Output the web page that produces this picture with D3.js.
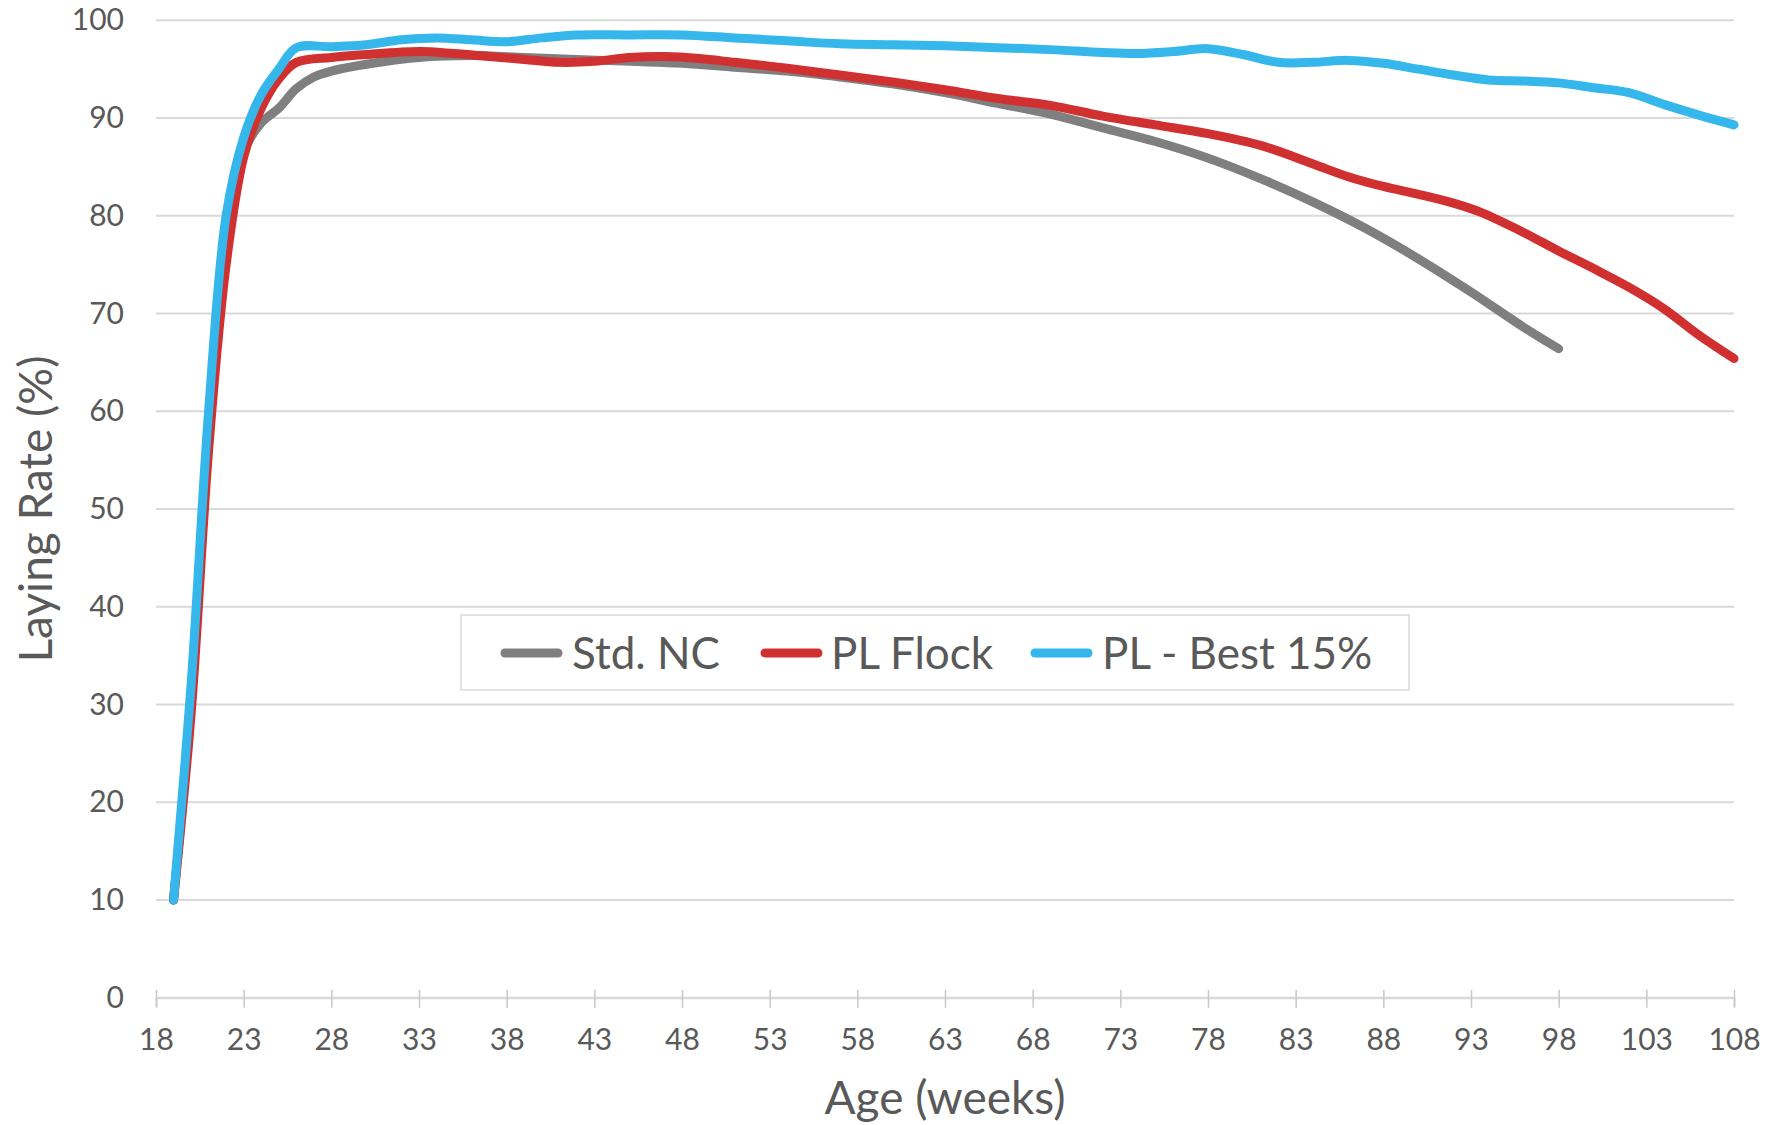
<!DOCTYPE html>
<html>
<head>
<meta charset="utf-8">
<script src="https://cdn.jsdelivr.net/npm/d3@7"></script>
<style>
  html, body { margin: 0; padding: 0; background: #ffffff; }
  svg { display: block; font-family: Lato, "Open Sans", sans-serif; }
</style>
</head>
<body>
<svg id="chart" width="1770" height="1125"></svg>
<script>
// ---- data ----
const stdWeeks   = [19,20,21,22,23,24,25,26,27,28,30,33,36,39,42,45,48,51,54,57,60,63,66,69,72,75,78,81,84,87,90,93,96,98];
const stdValues  = [10,30,57,76,86.5,89.5,91,93,94.2,94.8,95.5,96.2,96.4,96.2,96.0,95.8,95.6,95.2,94.8,94.2,93.5,92.6,91.5,90.4,89.0,87.6,85.9,83.8,81.4,78.7,75.6,72.2,68.6,66.4];

const flockWeeks  = [19,20,21,22,23,24,25,26,28,30,33,35,37,39,41,43,45,47,49,51,54,57,60,63,66,69,72,75,78,81,84,86,88,90,92,93.5,96,98,100,102,104,106,108];
const flockValues = [10,29,56,75,86,91,94,95.7,96.2,96.5,96.8,96.6,96.3,96.0,95.7,95.8,96.2,96.3,96.1,95.7,95.1,94.4,93.7,92.9,92.0,91.3,90.2,89.3,88.4,87.2,85.3,84.0,83.0,82.2,81.3,80.4,78.3,76.4,74.6,72.7,70.5,67.8,65.4];

const bestWeeks  = [19,20,21,22,23,24,25,26,28,30,32,34,36,38,40,42,45,48,51,54,57,60,63,66,69,72,74,76,78,80,82,84,86,88,90,92,94,96,98,100,102,104,106,108];
const bestValues = [10,32,60,80,88,92.4,95,97.2,97.3,97.5,98.0,98.2,98.0,97.8,98.2,98.5,98.5,98.5,98.2,97.9,97.6,97.5,97.4,97.2,97.0,96.7,96.6,96.8,97.1,96.5,95.7,95.7,95.9,95.6,95.0,94.4,93.9,93.8,93.6,93.1,92.6,91.4,90.3,89.3];

const seriesNames  = ["Std. NC", "PL Flock", "PL - Best 15%"];
const seriesColors = ["#7f7f7f", "#d0302f", "#35b7eb"];

const xTicks = [18,23,28,33,38,43,48,53,58,63,68,73,78,83,88,93,98,103,108];
const yTicks = [0,10,20,30,40,50,60,70,80,90,100];

const xTitle = "Age (weeks)";
const yTitle = "Laying Rate (%)";

// ---- layout ----
const plot = { left: 156, right: 1734, top: 20.3, bottom: 997.8 };
const svg = d3.select("#chart");

const x = d3.scaleLinear().domain([18, 108]).range([plot.left, plot.right]);
const y = d3.scaleLinear().domain([0, 100]).range([plot.bottom, plot.top]);

const textColor = "#595959";
const gridColor = "#d9d9d9";

// gridlines
svg.append("g")
  .selectAll("line")
  .data(yTicks)
  .join("line")
  .attr("x1", plot.left).attr("x2", plot.right)
  .attr("y1", d => y(d)).attr("y2", d => y(d))
  .attr("stroke", gridColor).attr("stroke-width", 2);

// y labels
const yAxis = d3.axisLeft(y).tickValues(yTicks).tickSize(0).tickPadding(32);
const gy = svg.append("g").attr("transform", `translate(${plot.left},0)`).call(yAxis);
gy.select(".domain").remove();
gy.selectAll("text").attr("fill", textColor).attr("font-size", 30).attr("font-family", "Lato, sans-serif");

// x axis
const xAxis = d3.axisBottom(x).tickValues(xTicks).tickSize(9).tickPadding(22);
const gx = svg.append("g").attr("transform", `translate(0,${plot.bottom})`).call(xAxis);
gx.select(".domain").attr("stroke", gridColor).attr("stroke-width", 2);
gx.selectAll(".tick line").attr("stroke", "#c8c8c8").attr("stroke-width", 1.5).attr("y1", -8).attr("y2", 10);
gx.selectAll("text").attr("fill", textColor).attr("font-size", 30).attr("font-family", "Lato, sans-serif");

// axis titles
svg.append("text")
  .attr("x", (plot.left + plot.right) / 2).attr("y", 1114)
  .attr("text-anchor", "middle")
  .attr("fill", textColor).attr("font-size", 46)
  .text(xTitle);

svg.append("text")
  .attr("transform", `translate(52,${(plot.top + plot.bottom) / 2}) rotate(-90)`)
  .attr("text-anchor", "middle")
  .attr("fill", textColor).attr("font-size", 46)
  .text(yTitle);

// lines
const line = d3.line()
  .x(d => x(d[0])).y(d => y(d[1]))
  .curve(d3.curveCatmullRom.alpha(0.5));

const series = [
  d3.zip(stdWeeks, stdValues),
  d3.zip(flockWeeks, flockValues),
  d3.zip(bestWeeks, bestValues)
];

svg.append("g")
  .selectAll("path")
  .data(series)
  .join("path")
  .attr("d", line)
  .attr("fill", "none")
  .attr("stroke", (d, i) => seriesColors[i])
  .attr("stroke-width", 9)
  .attr("stroke-linecap", "round")
  .attr("stroke-linejoin", "round");

// legend
const legend = svg.append("g");
legend.append("rect")
  .attr("x", 461).attr("y", 615)
  .attr("width", 948).attr("height", 75)
  .attr("fill", "#ffffff")
  .attr("stroke", gridColor).attr("stroke-width", 1.5);

const legendItems = [
  { lineX: 505, textX: 572 },
  { lineX: 765, textX: 831 },
  { lineX: 1035, textX: 1102 }
];
const lg = legend.selectAll("g.item")
  .data(seriesNames)
  .join("g").attr("class", "item");
lg.append("line")
  .attr("x1", (d, i) => legendItems[i].lineX)
  .attr("x2", (d, i) => legendItems[i].lineX + 53)
  .attr("y1", 653).attr("y2", 653)
  .attr("stroke", (d, i) => seriesColors[i])
  .attr("stroke-width", 9).attr("stroke-linecap", "round");
lg.append("text")
  .attr("x", (d, i) => legendItems[i].textX)
  .attr("y", 653).attr("dy", "0.36em")
  .attr("fill", textColor).attr("font-size", 44)
  .text(d => d);
</script>
</body>
</html>
